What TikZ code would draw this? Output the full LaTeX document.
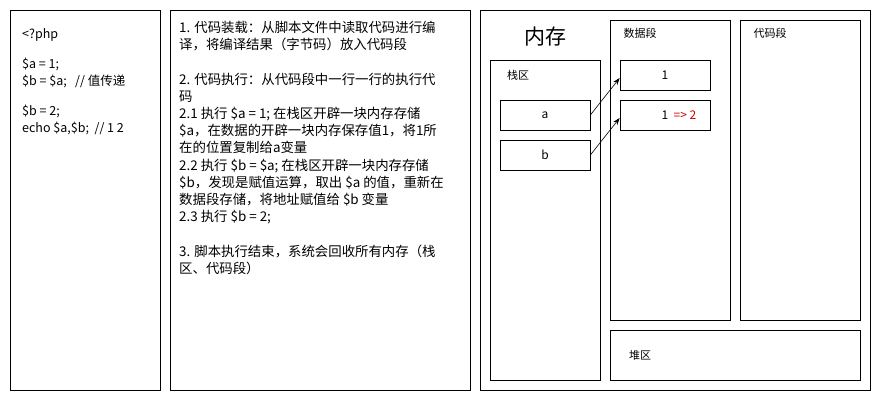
\documentclass[tikz,border=0pt]{standalone}
\usepackage{fontspec}
\setmainfont{Noto Sans CJK SC}
\usetikzlibrary{positioning,arrows.meta}

\tikzset{
    panel/.style={draw, line width=0.8pt},
    cell/.style={draw, line width=0.8pt, minimum width=90pt, minimum height=30pt, inner sep=0pt, font=\fontsize{12}{14}\selectfont},
    txt/.style={align=left, anchor=north west, inner sep=0pt, font=\fontsize{13.4}{17.2}\selectfont},
    link/.style={-{Stealth[length=7pt,width=5pt]}, line width=0.6pt}
}

\begin{document}
\begin{tikzpicture}[x=1pt,y=-1pt]
    \useasboundingbox (0,0) rectangle (881,401);

    % Source code panel
    \draw [panel] (10,10) rectangle (160,390);
    \node[txt, font=\fontsize{12.5}{17}\selectfont] (code) at (22,28) {<?php\\[13pt]
        \$a = 1;\\
        \$b = \$a;\ \ \ // 值传递\\[13pt]
        \$b = 2;\\
        echo \$a,\$b;\ \ // 1 2};

    % Steps panel
    \draw [panel] (170,10) rectangle (470,390);
    \node[txt] (steps) at (179,21) {1. 代码装载：从脚本文件中读取代码进行编\\
        译，将编译结果（字节码）放入代码段\\[17.2pt]
        2. 代码执行：从代码段中一行一行的执行代\\
        码\\
        2.1 执行 \$a = 1; 在栈区开辟一块内存存储\\
        \$a，在数据的开辟一块内存保存值1，将1所\\
        在的位置复制给a变量\\
        2.2 执行 \$b = \$a; 在栈区开辟一块内存存储\\
        \$b，发现是赋值运算，取出 \$a 的值，重新在\\
        数据段存储，将地址赋值给 \$b 变量\\
        2.3 执行 \$b = 2;\\[17.2pt]
        3. 脚本执行结束，系统会回收所有内存（栈\\
        区、代码段）};

    % Memory panel
    \draw [panel] (480,10) rectangle (870,390);
    \node[font=\fontsize{21}{24}\selectfont] (mem) at (545,37) {内存};

    % Stack area
    \draw [panel] (490,60) rectangle (600,380);
    \node[font=\fontsize{11}{12}\selectfont] (stack) at (518,75) {栈区};
    \node[cell] (a) at (545,115) {a};
    \node[cell] (b) at (545,155) {b};

    % Data segment
    \draw [panel] (610,20) rectangle (730,320);
    \node[font=\fontsize{11}{12}\selectfont] (data) at (640,33) {数据段};
    \node[cell] (one) at (665,75) {1};
    \node[cell] (two) at (665,115) {1\rlap{\ \ \textcolor{red!80!black}{=> 2}}};

    % Code segment
    \draw [panel] (740,20) rectangle (860,320);
    \node[font=\fontsize{11}{12}\selectfont] (codeseg) at (770,33) {代码段};

    % Heap
    \draw [panel] (610,330) rectangle (860,380);
    \node[font=\fontsize{11}{12}\selectfont] (heap) at (640,355) {堆区};

    \draw [link] (a.east) -- ([yshift=-3pt]one.west);
    \draw [link] (b.east) -- ([yshift=-3pt]two.west);
\end{tikzpicture}
\end{document}
